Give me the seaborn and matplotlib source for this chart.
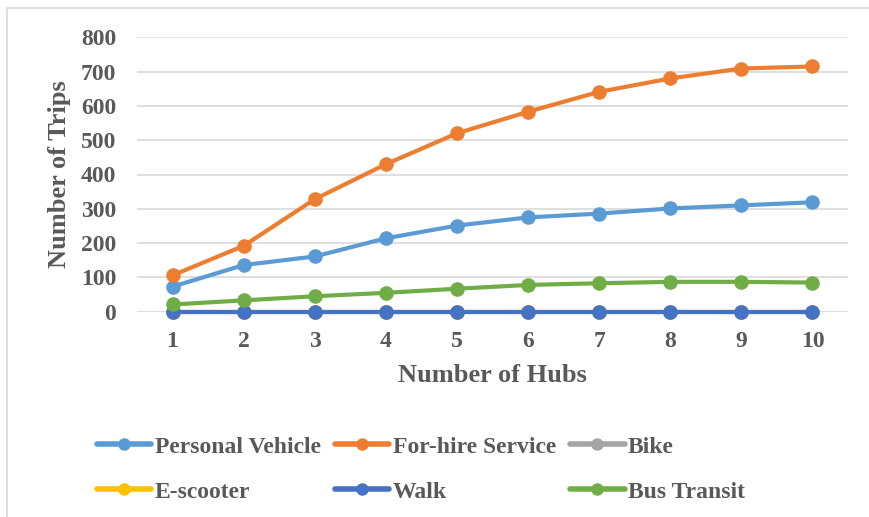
import pandas as pd
import numpy as np
import matplotlib
matplotlib.use("Agg")
import matplotlib.pyplot as plt
import seaborn as sns
from matplotlib.patches import Rectangle

hubs = [1, 2, 3, 4, 5, 6, 7, 8, 9, 10]
personal_vehicle = [73, 136, 161, 214, 251, 275, 286, 301, 310, 319]
for_hire = [106, 192, 328, 430, 520, 583, 641, 680, 709, 715]
bike = [0, 0, 0, 0, 0, 0, 0, 0, 0, 0]
e_scooter = [0, 0, 0, 0, 0, 0, 0, 0, 0, 0]
walk = [0, 0, 0, 0, 0, 0, 0, 0, 0, 0]
bus_transit = [21, 33, 45, 55, 67, 78, 83, 87, 87, 85]

modes = ["Personal Vehicle", "For-hire Service", "Bike", "E-scooter", "Walk", "Bus Transit"]
colors = ["#5B9BD5", "#ED7D31", "#A5A5A5", "#FFC000", "#4472C4", "#70AD47"]
y_ticks = [0, 100, 200, 300, 400, 500, 600, 700, 800]

series = [personal_vehicle, for_hire, bike, e_scooter, walk, bus_transit]
df = pd.DataFrame({
    "Hubs": hubs * len(modes),
    "Trips": np.concatenate(series),
    "Mode": np.repeat(modes, len(hubs)),
})

sns.set_style("white")
plt.rcParams["font.family"] = ["Liberation Serif", "DejaVu Serif"]
plt.rcParams["font.weight"] = "bold"
text_color = "#595959"

fig = plt.figure(figsize=(8.69, 5.17), dpi=100)
ax = fig.add_axes([137 / 869, 1 - 311.7 / 517, 711 / 869, 274.4 / 517])

sns.lineplot(data=df, x="Hubs", y="Trips", hue="Mode", hue_order=modes,
             palette=dict(zip(modes, colors)), marker="o", markersize=10.5,
             markeredgewidth=0, linewidth=3, ax=ax, legend=True)

ax.set_xlim(0.5, 10.5)
ax.set_ylim(0, 800)
ax.set_xticks(hubs)
ax.set_yticks(y_ticks)
for line in ax.lines:
    line.set_clip_on(False)
ax.grid(axis="y", color="#D9D9D9", linewidth=1.2)
ax.set_axisbelow(True)
for s in ax.spines.values():
    s.set_visible(False)
ax.tick_params(axis="both", length=0, labelsize=17, labelcolor=text_color)
ax.tick_params(axis="x", pad=14)
ax.tick_params(axis="y", pad=15)

ax.set_xlabel("Number of Hubs", fontsize=19, color=text_color, fontweight="bold", va="top")
ax.set_ylabel("Number of Trips", fontsize=19, color=text_color, fontweight="bold")
ax.xaxis.set_label_coords(0.5, -0.19)
ax.yaxis.set_label_coords(-0.093, 0.5)

# legend in rows (matplotlib fills columns first)
handles, labels = ax.get_legend_handles_labels()
ax.get_legend().remove()
order = [0, 3, 1, 4, 2, 5]
handles = [handles[i] for i in order]
labels = [labels[i] for i in order]
leg = fig.legend(handles, labels, loc="upper left", bbox_to_anchor=(97 / 869, 1 - 436 / 517),
                 ncol=3, frameon=False, fontsize=17, handlelength=2.3, handletextpad=0.15,
                 columnspacing=0.6, labelspacing=1.0, borderpad=0, borderaxespad=0)
for t in leg.get_texts():
    t.set_color(text_color)
for h in leg.legend_handles:
    h.set_linewidth(4)
    h.set_markersize(9)

fig.add_artist(Rectangle((7 / 869, -0.1), 1.2, 1.1 - 8 / 517, transform=fig.transFigure,
                         fill=False, edgecolor="#D9D9D9", linewidth=1.2))

fig.savefig("out.png", dpi=100)
